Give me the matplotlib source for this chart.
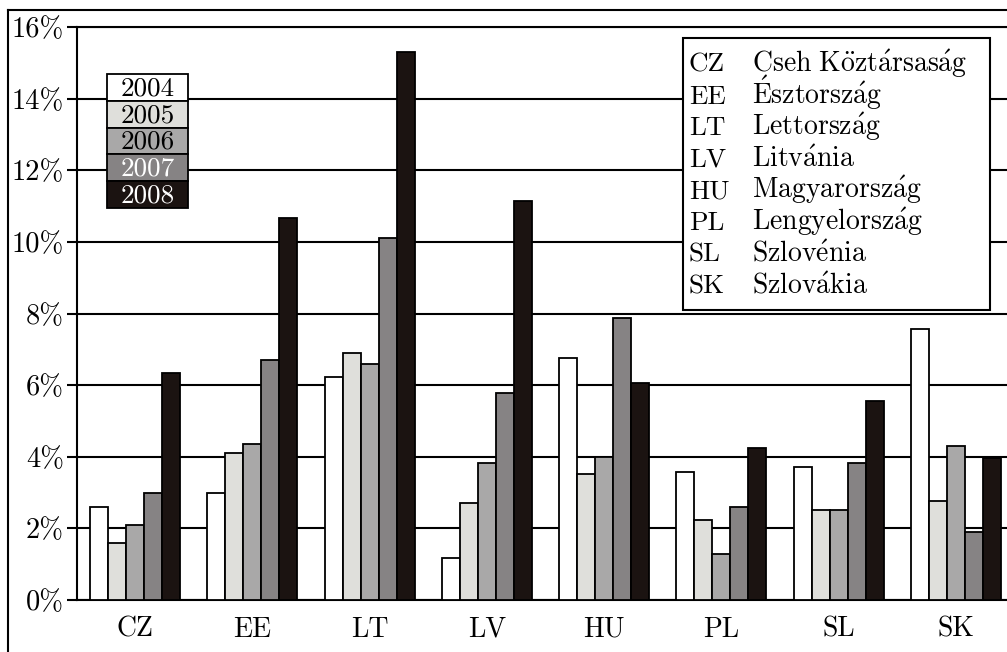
import matplotlib
matplotlib.use("Agg")
import matplotlib.pyplot as plt
import numpy as np
from matplotlib.patches import Rectangle
from matplotlib.lines import Line2D

# data (percent)
countries = ["CZ", "EE", "LT", "LV", "HU", "PL", "SL", "SK"]
years = ["2004", "2005", "2006", "2007", "2008"]
v2004 = [2.6, 3.0, 6.22, 1.16, 6.77, 3.57, 3.7, 7.56]
v2005 = [1.6, 4.1, 6.9, 2.72, 3.51, 2.22, 2.51, 2.77]
v2006 = [2.1, 4.36, 6.6, 3.82, 3.99, 1.28, 2.51, 4.31]
v2007 = [3.0, 6.7, 10.1, 5.77, 7.87, 2.59, 3.82, 1.89]
v2008 = [6.35, 10.67, 15.3, 11.15, 6.05, 4.25, 5.56, 3.96]
names = ["Cseh Köztársaság", "Észtország", "Lettország", "Litvánia",
         "Magyarország", "Lengyelország", "Szlovénia", "Szlovákia"]
yticks = [0, 2, 4, 6, 8, 10, 12, 14, 16]

colors = ["#ffffff", "#dfdfdb", "#a9a8a8", "#868384", "#1b1311"]
text_colors = ["black", "black", "black", "white", "white"]
serif = "cmr10"
plt.rcParams["mathtext.fontset"] = "cm"

# cmr10 has no precomposed accented letters, so use mathtext accents
accents = {"á": r"\acute{a}", "é": r"\acute{e}", "ö": r"\ddot{o}",
           "É": r"\acute{E}", " ": r"\ "}


def tex(s):
    return r"$\mathrm{" + "".join(accents.get(ch, ch) for ch in s) + "}$"


W, H = 1007, 652
fig = plt.figure(figsize=(W / 100, H / 100), dpi=100)


def fx(px):
    return px / W


def fy(py):
    return 1 - py / H


ax = fig.add_axes([fx(77), fy(600), fx(1007 - 77), fy(27) - fy(600)])

series = [v2004, v2005, v2006, v2007, v2008]
x = np.arange(len(countries))
bw = 0.1535
for i, vals in enumerate(series):
    ax.bar(x + (i - 2) * bw, vals, width=bw, color=colors[i],
           edgecolor="black", linewidth=1.3, zorder=3)

ax.set_xlim(-0.494, 7.434)
ax.set_ylim(0, 16)
ax.set_yticks(yticks)
ax.set_yticklabels([f"{t}%" for t in yticks], family=serif, fontsize=20.5)
ax.set_xticks(x)
ax.set_xticklabels(countries, family=serif, fontsize=20)
ax.tick_params(axis="x", length=0, pad=12)
ax.tick_params(axis="y", length=7.5, width=1.5, pad=2)
ax.yaxis.grid(True, color="black", linewidth=1.5, zorder=0)
ax.set_axisbelow(True)
for s in ["left", "bottom", "top"]:
    ax.spines[s].set_linewidth(1.5)
ax.spines["right"].set_visible(False)

# year legend
row_h = 26.8
for i, yr in enumerate(years):
    top = 74 + i * row_h
    fig.add_artist(Rectangle((fx(107), fy(top + row_h)), fx(188 - 107),
                             row_h / H, facecolor=colors[i],
                             edgecolor="black", linewidth=1.3,
                             transform=fig.transFigure, zorder=5))
    fig.text(fx(147.5), fy(top + row_h / 2 + 1), yr, ha="center",
             va="center", family=serif, fontsize=19.5, color=text_colors[i],
             zorder=6)

# country legend
fig.add_artist(Rectangle((fx(683), fy(310)), fx(990 - 683), (310 - 38) / H,
                         facecolor="white", edgecolor="black", linewidth=1.5,
                         transform=fig.transFigure, zorder=5))
for i, (c, n) in enumerate(zip(countries, names)):
    base = 72 + i * 31.6
    fig.text(fx(689), fy(base), c, ha="left", va="baseline",
             family=serif, fontsize=19.5, zorder=6)
    fig.text(fx(752), fy(base), tex(n), ha="left", va="baseline",
             fontsize=20, zorder=6)

# outer frame
fig.add_artist(Line2D([fx(8), fx(8)], [fy(10), 0], color="black",
                      linewidth=1.5, transform=fig.transFigure))
fig.add_artist(Line2D([fx(8), 1], [fy(10), fy(10)], color="black",
                      linewidth=1.5, transform=fig.transFigure))

fig.savefig("out.png", dpi=100)
